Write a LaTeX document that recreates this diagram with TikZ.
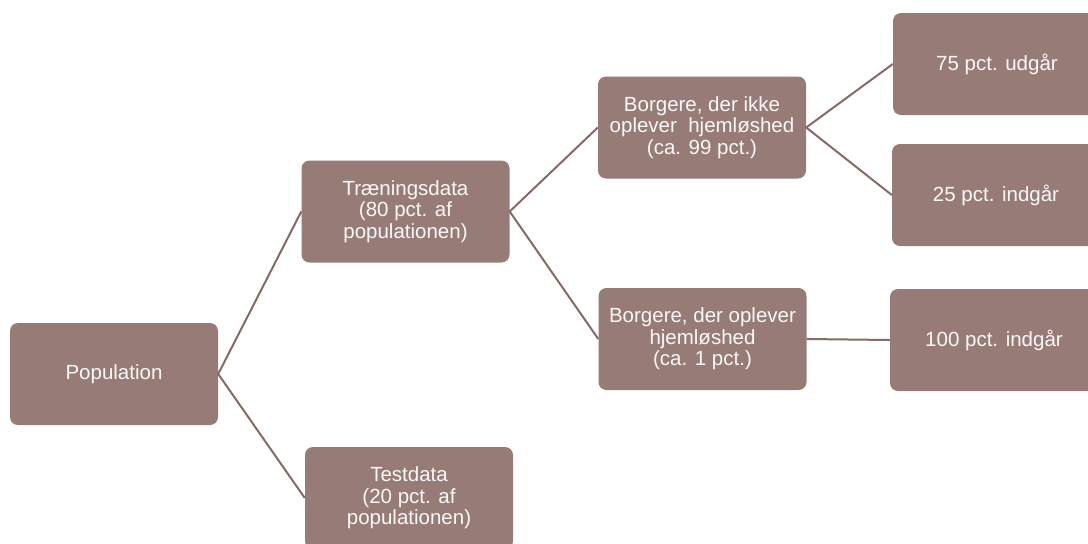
\documentclass[tikz,border=0pt]{standalone}
\usepackage{fontspec}
\setmainfont{Liberation Sans}
\definecolor{boksbrun}{RGB}{151,123,118}
\definecolor{grenbrun}{RGB}{133,106,101}
\tikzset{
  boks/.style={fill=boksbrun,rounded corners=8pt,minimum width=208pt,
    minimum height=102pt,inner sep=0pt,align=center,text=white!95!boksbrun,
    font=\fontsize{20.5}{21.5}\selectfont},
  gren/.style={grenbrun,line width=2pt}
}

\begin{document}
\begin{tikzpicture}[x=1pt,y=-1pt]
          \clip (0,0) rectangle (1088,544);
          %\draw[very thin,lightgray] (0,0) rectangle (1088,544);
          \node[boks] (pop) at (114,374) {Population};
          \node[boks] (tren) at (405.5,211.5) {Træningsdata\\(80 pct. af\\populationen)};
          \node[boks] (test) at (409,498) {Testdata\\(20 pct. af\\populationen)};
          \node[boks] (ikke) at (702,127.5) {Borgere, der ikke\\oplever \ hjemløshed\\(ca. 99 pct.)};
          \node[boks] (oplever) at (702.5,339) {Borgere, der oplever\\hjemløshed\\(ca. 1 pct.)};
          \node[boks] (udgaar) at (997,64) {75 pct. udgår};
          \node[boks] (indgaar) at (996,195) {25 pct. indgår};
          \node[boks] (alle) at (994,340) {100 pct. indgår};
          %\draw[gren] (pop.east) -- (tren.west);
          \draw[gren] (tren.west) -- (pop.east) -- (test.west);
          \draw[gren] (ikke.west) -- (tren.east) -- (oplever.west);
          \draw[gren] (udgaar.west) -- (ikke.east) -- (indgaar.west);
          \draw[gren] (oplever.east) -- (alle.west);
        \end{tikzpicture}
\end{document}
